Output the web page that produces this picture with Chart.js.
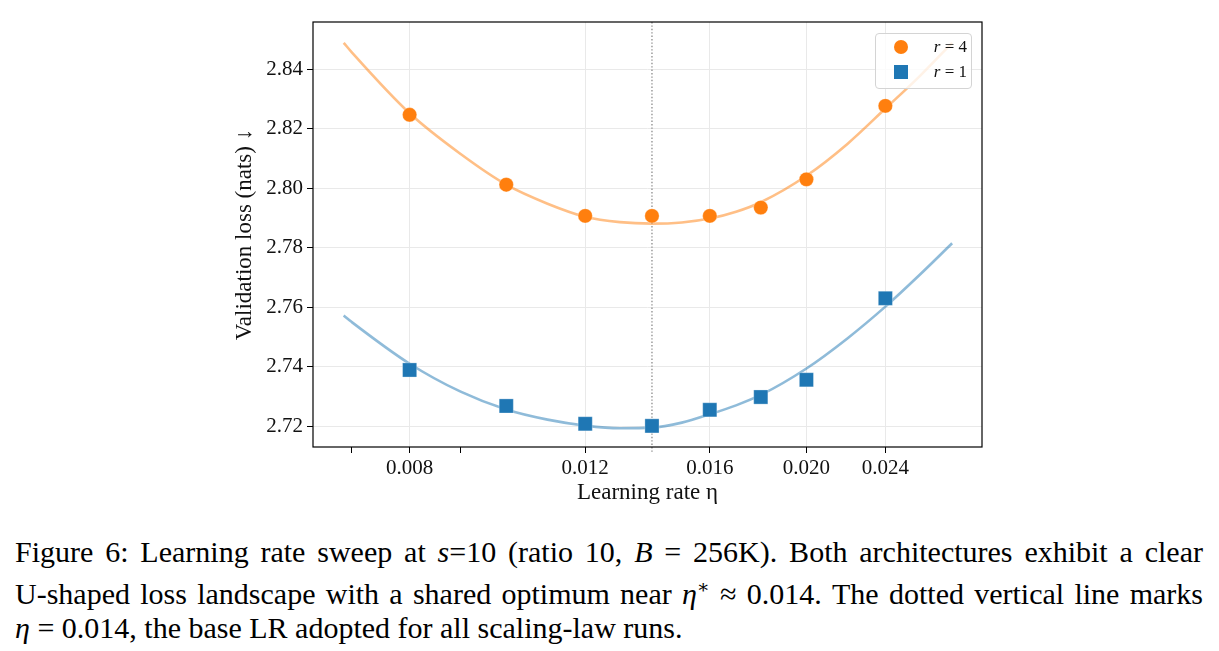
<!DOCTYPE html>
<html>
<head>
<meta charset="utf-8">
<script src="https://cdn.jsdelivr.net/npm/chart.js@4.4.1/dist/chart.umd.min.js"></script>
<style>
  body { margin: 0; background: #fff; width: 1219px; height: 651px; overflow: hidden; font-family: 'Liberation Serif', 'DejaVu Serif', serif; }
  #wrap { position: absolute; left: 0; top: 0; width: 1219px; height: 520px; }
  #legend { position: absolute; left: 875px; top: 33px; width: 95px; height: 54px; border: 1px solid #d4d4d4; border-radius: 4px; background: rgba(255,255,255,0.8); font-size: 17px; color: #111; }
  .row { position: absolute; left: 0; width: 95px; height: 20px; }
  .mark { position: absolute; left: 18px; top: 3px; width: 14px; height: 14px; }
  .lab { position: absolute; right: 4px; top: 0; line-height: 20px; }
  #caption { position: absolute; left: 15px; top: 535px; width: 1188px; font-size: 30px; line-height: 34.5px; color: #000; }
  #caption div { text-align: justify; text-align-last: justify; white-space: nowrap; }
  #caption div.last { text-align-last: left; }
</style>
</head>
<body>
<div id="wrap"><canvas id="chart" width="1219" height="520"></canvas></div>
<div id="legend">
  <div class="row" style="top:3px"><div class="mark" style="background:#ff7f0e;border-radius:50%"></div><span class="lab"><i>r</i> = 4</span></div>
  <div class="row" style="top:28px"><div class="mark" style="background:#1f77b4"></div><span class="lab"><i>r</i> = 1</span></div>
</div>
<div id="caption">
  <div>Figure 6: Learning rate sweep at <i>s</i>=10 (ratio 10, <i>B</i> = 256K). Both architectures exhibit a clear</div>
  <div>U-shaped loss landscape with a shared optimum near <i>η</i><sup style="font-size:19px">∗</sup> ≈ 0.014. The dotted vertical line marks</div>
  <div class="last"><i>η</i> = 0.014, the base LR adopted for all scaling-law runs.</div>
</div>
<script>
// measured runs
const lrPoints = [0.008, 0.010, 0.012, 0.014, 0.016, 0.018, 0.020, 0.024];
const lossR4 = [2.8247, 2.8012, 2.7907, 2.7907, 2.7907, 2.7935, 2.8030, 2.8277];
const lossR1 = [2.7389, 2.7268, 2.7208, 2.7201, 2.7255, 2.7298, 2.7356, 2.7630];

// fitted curves
const lrFit = [0.00687, 0.007, 0.008, 0.009, 0.010, 0.011, 0.012, 0.013, 0.014, 0.015, 0.016, 0.017, 0.018, 0.020, 0.022, 0.024, 0.026, 0.028];
const fitR4 = [2.8489, 2.8457, 2.8252, 2.8115, 2.8012, 2.7948, 2.7904, 2.7886, 2.7881, 2.7885, 2.7898, 2.7921, 2.7953, 2.8042, 2.8150, 2.8268, 2.8378, 2.8489];
const fitR1 = [2.7572, 2.7550, 2.7410, 2.7316, 2.7256, 2.7222, 2.7202, 2.7193, 2.7195, 2.7212, 2.7240, 2.7270, 2.7305, 2.7394, 2.7496, 2.7602, 2.7710, 2.7815];

const optimumLr = 0.014;
const xTicks = [0.008, 0.012, 0.016, 0.020, 0.024];
const xMinor = [0.007, 0.009];
const yTicks = [2.72, 2.74, 2.76, 2.78, 2.80, 2.82, 2.84];

const toXY = (xs, ys) => xs.map((x, i) => ({ x: x, y: ys[i] }));
const family = "'Liberation Serif', 'DejaVu Serif', serif";
const tickFont = { family: family, size: 21 };
const titleFont = { family: family, size: 23 };
const gridColor = '#e9e9e9';

// dotted optimum line + black frame
const extras = {
  id: 'extras',
  beforeDatasetsDraw(chart) {
    const { ctx, chartArea: a, scales } = chart;
    const px = scales.x.getPixelForValue(optimumLr);
    ctx.save();
    ctx.strokeStyle = 'rgba(120,120,120,0.8)';
    ctx.lineWidth = 1.4;
    ctx.setLineDash([1.4, 2]);
    ctx.beginPath();
    ctx.moveTo(px, a.top);
    ctx.lineTo(px, a.bottom + 5);
    ctx.stroke();
    ctx.restore();
  },
  afterDraw(chart) {
    const { ctx, chartArea: a } = chart;
    ctx.save();
    ctx.strokeStyle = '#000';
    ctx.lineWidth = 1.2;
    ctx.strokeRect(a.left, a.top, a.right - a.left, a.bottom - a.top);
    ctx.restore();
  }
};

new Chart(document.getElementById('chart').getContext('2d'), {
  type: 'line',
  data: {
    datasets: [
      { type: 'scatter', data: toXY(lrPoints, lossR4), backgroundColor: '#ff7f0e', borderColor: 'rgba(255,255,255,0.5)', borderWidth: 0.6, pointStyle: 'circle', pointRadius: 7.2, order: 0 },
      { type: 'scatter', data: toXY(lrPoints, lossR1), backgroundColor: '#1f77b4', borderColor: 'rgba(255,255,255,0.5)', borderWidth: 0.6, pointStyle: 'rect', pointRadius: 10, order: 0 },
      { data: toXY(lrFit, fitR4), borderColor: 'rgba(255,127,14,0.5)', borderWidth: 2.6, pointRadius: 0, cubicInterpolationMode: 'monotone', fill: false, order: 1 },
      { data: toXY(lrFit, fitR1), borderColor: 'rgba(31,119,180,0.5)', borderWidth: 2.6, pointRadius: 0, cubicInterpolationMode: 'monotone', fill: false, order: 1 }
    ]
  },
  options: {
    responsive: false,
    animation: false,
    layout: { padding: { left: 230, top: 22, right: 237, bottom: 11 } },
    plugins: { legend: { display: false }, tooltip: { enabled: false } },
    scales: {
      x: {
        type: 'logarithmic',
        min: 0.0064,
        max: 0.0300,
        afterBuildTicks: s => { s.ticks = xMinor.concat(xTicks).sort((a, b) => a - b).map(v => ({ value: v })); },
        afterFit: s => { s.height = 62; },
        ticks: {
          autoSkip: false, maxRotation: 0, padding: 3, color: '#111', font: tickFont,
          callback: v => xTicks.includes(v) ? v.toFixed(3) : ''
        },
        grid: {
          color: c => (c.tick && xMinor.includes(c.tick.value)) ? 'rgba(0,0,0,0)' : gridColor,
          tickColor: '#000', tickLength: 6, lineWidth: 1
        },
        border: { display: false },
        title: { display: true, text: 'Learning rate η', color: '#111', font: titleFont, padding: { top: 0, bottom: 2 } }
      },
      y: {
        min: 2.7130,
        max: 2.8559,
        afterBuildTicks: s => { s.ticks = yTicks.map(v => ({ value: v })); },
        afterFit: s => { s.width = 83; },
        ticks: { padding: 4, color: '#111', font: tickFont, callback: v => v.toFixed(2) },
        grid: { color: gridColor, tickColor: '#000', tickLength: 6, lineWidth: 1 },
        border: { display: false },
        title: { display: true, text: 'Validation loss (nats) ↓', color: '#111', font: titleFont, padding: { top: 1, bottom: 0 } }
      }
    }
  },
  plugins: [extras]
});
</script>
</body>
</html>
